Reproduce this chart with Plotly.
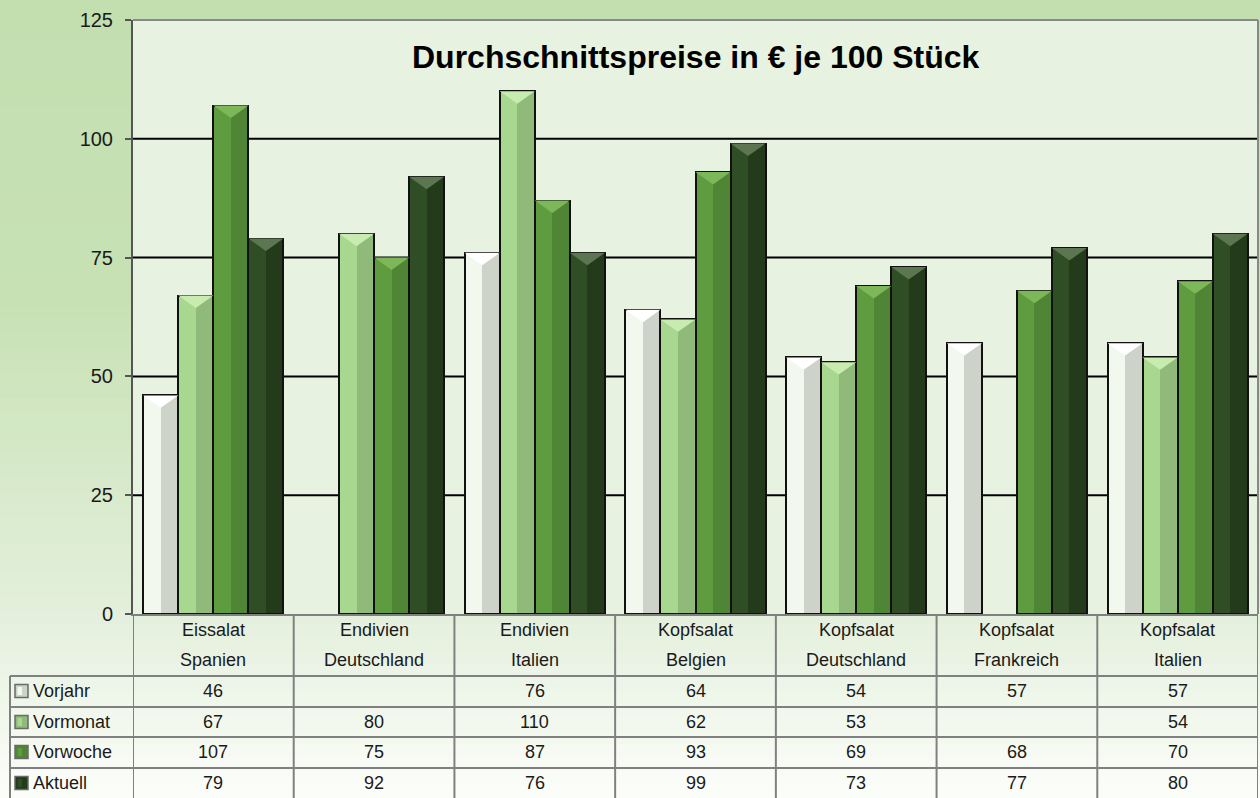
import plotly.graph_objects as go

W, H = 1260, 798
L, R, T, B = 133, 1258, 20, 614

categories = [
    ("Eissalat", "Spanien"),
    ("Endivien", "Deutschland"),
    ("Endivien", "Italien"),
    ("Kopfsalat", "Belgien"),
    ("Kopfsalat", "Deutschland"),
    ("Kopfsalat", "Frankreich"),
    ("Kopfsalat", "Italien"),
]

vorjahr = [46, None, 76, 64, 54, 57, 57]
vormonat = [67, 80, 110, 62, 53, None, 54]
vorwoche = [107, 75, 87, 93, 69, 68, 70]
aktuell = [79, 92, 76, 99, 73, 77, 80]

series_names = ["Vorjahr", "Vormonat", "Vorwoche", "Aktuell"]
series_values = [vorjahr, vormonat, vorwoche, aktuell]

y_ticks = [0, 25, 50, 75, 100, 125]

# left half / right half / top bevel colours per series
shades = [
    ("#f3f8ee", "#cdd3c8", "#ffffff"),
    ("#a8d78f", "#8fba7a", "#c8ecb0"),
    ("#5f9b3f", "#4f8535", "#7cb85a"),
    ("#304e25", "#233a1b", "#5b7651"),
]


def px(xp):
    return (xp - L) / (R - L)


def py(yp):
    return (B - yp) / (B - T)


def lerp(c0, c1, t):
    return tuple(round(a + (b - a) * t) for a, b in zip(c0, c1))


fig = go.Figure()

bar_w = 0.218
offsets = [-1.5 * bar_w, -0.5 * bar_w, 0.5 * bar_w, 1.5 * bar_w]
idx = list(range(len(categories)))

# shaded halves
for k, vals in enumerate(series_values):
    light, dark, top = shades[k]
    xs = [i + offsets[k] for i in idx]
    fig.add_trace(go.Bar(
        x=[x - bar_w / 4 for x in xs], y=vals, width=bar_w / 2,
        marker=dict(color=light, line=dict(width=0)),
        hoverinfo="skip", showlegend=False,
    ))
    fig.add_trace(go.Bar(
        x=[x + bar_w / 4 for x in xs], y=vals, width=bar_w / 2,
        marker=dict(color=dark, line=dict(width=0)),
        hoverinfo="skip", showlegend=False,
    ))
    # top bevel triangles
    tx, ty = [], []
    for x, v in zip(xs, vals):
        if v is None:
            continue
        tx += [x - bar_w / 2, x + bar_w / 2, x, x - bar_w / 2, None]
        ty += [v, v, v - 2.6, v, None]
    fig.add_trace(go.Scatter(
        x=tx, y=ty, mode="lines", fill="toself", fillcolor=top,
        line=dict(width=0), hoverinfo="skip", showlegend=False,
    ))

# outlines
for k, vals in enumerate(series_values):
    fig.add_trace(go.Bar(
        x=[i + offsets[k] for i in idx], y=vals, width=bar_w,
        name=series_names[k],
        marker=dict(color="rgba(0,0,0,0)", line=dict(color="#111111", width=2)),
        showlegend=False,
    ))

shapes = []

# background gradient of the whole sheet
stops = [(0, (195, 223, 176)), (300, (199, 225, 180)), (600, (226, 239, 218)), (798, (252, 253, 250))]
n = 60
for j in range(n):
    y0p = H * j / n
    y1p = H * (j + 1) / n
    ym = (y0p + y1p) / 2
    for (a, ca), (b, cb) in zip(stops[:-1], stops[1:]):
        if a <= ym <= b:
            c = lerp(ca, cb, (ym - a) / (b - a))
            break
    shapes.append(dict(type="rect", xref="paper", yref="paper",
                       x0=px(0), x1=px(W), y0=py(y1p + 0.5), y1=py(y0p - 0.5),
                       line=dict(width=0), fillcolor="rgb(%d,%d,%d)" % c, layer="below"))
# plot area fill on top of the gradient
shapes.append(dict(type="rect", xref="paper", yref="paper", x0=0, x1=1, y0=0, y1=1,
                   line=dict(width=0), fillcolor="#e8f2e0", layer="below"))

grid_col = "#808080"
# horizontal grid lines (value axis)
for v in y_ticks[1:-1]:
    shapes.append(dict(type="line", xref="paper", yref="y", x0=0, x1=1, y0=v, y1=v,
                       line=dict(color="#000000", width=2), layer="below"))
shapes.append(dict(type="line", xref="paper", yref="paper", x0=0, x1=1, y0=1, y1=1,
                   line=dict(color="#888888", width=2)))
shapes.append(dict(type="line", xref="paper", yref="paper", x0=1, x1=1, y0=0, y1=1,
                   line=dict(color="#888888", width=2)))

# table: vertical lines between categories
for i in range(len(categories) + 1):
    shapes.append(dict(type="line", xref="x", yref="paper", x0=i - 0.5, x1=i - 0.5,
                       y0=py(614), y1=py(800), line=dict(color=grid_col, width=2)))
# legend column border
shapes.append(dict(type="line", xref="paper", yref="paper", x0=px(10), x1=px(10),
                   y0=py(676), y1=py(800), line=dict(color=grid_col, width=2)))
row_lines = [676, 707, 737, 768]
for yl in row_lines:
    shapes.append(dict(type="line", xref="paper", yref="paper", x0=px(10), x1=1,
                       y0=py(yl), y1=py(yl), line=dict(color=grid_col, width=2)))

annotations = []
font = dict(family="Arial, Liberation Sans, sans-serif", size=18, color="#1a1a1a")

# category header
for i, (a, b) in enumerate(categories):
    annotations.append(dict(x=i, y=py(630), xref="x", yref="paper", text=a,
                            showarrow=False, font=font, yanchor="middle"))
    annotations.append(dict(x=i, y=py(660), xref="x", yref="paper", text=b,
                            showarrow=False, font=font, yanchor="middle"))

row_centers = [691, 722, 752, 783]
for k, vals in enumerate(series_values):
    yc = row_centers[k]
    light, dark, top = shades[k]
    shapes.append(dict(type="rect", xref="paper", yref="paper",
                       x0=px(15), x1=px(28), y0=py(yc + 6.5), y1=py(yc - 6.5),
                       line=dict(color="#6a6a6a", width=1.5), fillcolor=dark))
    shapes.append(dict(type="rect", xref="paper", yref="paper",
                       x0=px(17.5), x1=px(22), y0=py(yc + 4), y1=py(yc - 4),
                       line=dict(width=0), fillcolor=light))
    annotations.append(dict(x=px(31), y=py(yc), xref="paper", yref="paper",
                            text=series_names[k], showarrow=False, font=font,
                            xanchor="left", yanchor="middle"))
    for i, v in enumerate(vals):
        if v is None:
            continue
        annotations.append(dict(x=i, y=py(yc), xref="x", yref="paper", text=str(v),
                                showarrow=False, font=font, yanchor="middle"))

annotations.append(dict(x=0.5, y=py(57), xref="paper", yref="paper",
                        text="<b>Durchschnittspreise in € je 100 Stück</b>",
                        showarrow=False, yanchor="middle",
                        font=dict(family="Arial, Liberation Sans, sans-serif", size=32, color="#000000")))

fig.update_layout(
    width=W, height=H,
    margin=dict(l=L, r=W - R, t=T, b=H - B),
    paper_bgcolor="#ffffff",
    plot_bgcolor="#e8f2e0",
    barmode="overlay",
    bargap=0,
    shapes=shapes,
    annotations=annotations,
    showlegend=False,
    font=dict(family="Arial, Liberation Sans, sans-serif"),
)
fig.update_xaxes(
    range=[-0.5, len(categories) - 0.5],
    showticklabels=False, showgrid=False, zeroline=False,
    showline=True, linecolor="#808080", linewidth=2, ticks="",
    fixedrange=True,
)
fig.update_yaxes(
    range=[0, 125], tickvals=y_ticks, showgrid=False, zeroline=False,
    showline=True, linecolor="#555555", linewidth=2,
    ticks="outside", ticklen=6, tickcolor="#555555", tickwidth=2,
    ticklabelstandoff=8,
    tickfont=dict(family="Arial, Liberation Sans, sans-serif", size=20, color="#1a1a1a"),
    fixedrange=True,
)

fig.write_html("out.html", config={"displayModeBar": False},
               post_script="document.body.style.margin='0';")
